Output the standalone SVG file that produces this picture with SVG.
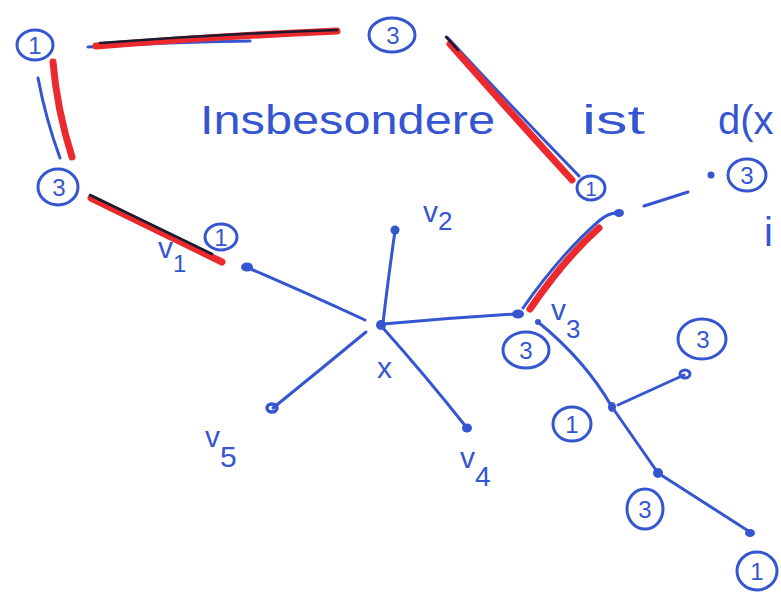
<svg xmlns="http://www.w3.org/2000/svg" width="781" height="598" viewBox="0 0 781 598">
<style>
.b{fill:none;stroke:#3556d0;stroke-width:3;stroke-linecap:round;stroke-linejoin:round}
.r{fill:none;stroke:#ec2a2e;stroke-width:7;stroke-linecap:round}
.k{fill:none;stroke:#1c1c30;stroke-width:2.5;stroke-linecap:round}
.c{fill:none;stroke:#3556d0;stroke-width:3}
.d{fill:#3556d0}
.t{fill:#3556d0;font-family:"Liberation Sans",Arial,sans-serif;font-size:24px;text-anchor:middle}
.h{fill:#3556d0;font-family:"Liberation Sans",Arial,sans-serif;font-size:40px}
.s{fill:#3556d0;font-family:"Liberation Sans",Arial,sans-serif;font-size:30px}
</style>
<rect width="781" height="598" fill="#ffffff"/>
<g id="connectors">
  <!-- top highlighted edge -->
  <path class="b" d="M88,47 Q170,42 250,41"/>
  <path class="r" d="M96,46 Q220,36 337,31"/>
  <path class="k" d="M100,43 Q220,34 337,30"/>
  <!-- left highlighted edge -->
  <path class="b" d="M38,78 Q46,120 60,158"/>
  <path class="r" d="M53,62 Q57,110 72,157"/>
  <!-- left-lower highlighted edge -->
  <path class="r" d="M91,198 Q160,232 222,262"/>
  <path class="k" d="M90,195 Q150,224 212,254"/>
  <!-- right diagonal highlighted edge -->
  <path class="b" d="M447,37 Q510,105 579,176"/>
  <path class="r" d="M450,44 Q510,112 572,180"/>
  <path class="k" d="M446,37 Q452,43 458,50"/>
  <!-- v3 up highlighted edge -->
  <path class="b" d="M523,308 Q560,255 600,220 Q610,212 618,213"/>
  <path class="r" d="M530,309 Q565,258 599,228"/>
  <!-- dash to right -->
  <path class="b" d="M644,206 L688,192"/>
  <!-- star around x -->
  <path class="b" d="M246,267 Q300,290 365,320"/>
  <path class="b" d="M395,231 Q388,280 383,323"/>
  <path class="b" d="M383,324 Q450,318 516,314"/>
  <path class="b" d="M366,332 Q320,370 273,408"/>
  <path class="b" d="M383,328 Q425,375 467,428"/>
  <!-- v3 subtree -->
  <path class="b" d="M538,322 Q585,360 612,407 Q635,440 658,473 L750,532"/>
  <path class="b" d="M618,405 L684,375"/>
</g>
<g id="n1-topleft"><ellipse class="c" cx="35" cy="45" rx="18" ry="15"/><text class="t" x="35" y="54">1</text></g>
<g id="n3-top"><ellipse class="c" cx="392" cy="35" rx="23" ry="17"/><text class="t" x="393" y="44">3</text></g>
<g id="n3-left"><ellipse class="c" cx="58" cy="187" rx="20" ry="18"/><text class="t" x="59" y="196">3</text></g>
<g id="n1-v1"><ellipse class="c" cx="221" cy="237" rx="16" ry="13"/><text class="t" x="221" y="246">1</text></g>
<g id="n1-right"><ellipse class="c" cx="591" cy="188" rx="14" ry="12"/><text class="t" x="591" y="196" style="font-size:20px">1</text></g>
<g id="n3-farright"><circle class="d" cx="711" cy="175" r="3.5"/><ellipse class="c" cx="747" cy="175" rx="19" ry="16"/><text class="t" x="747" y="184">3</text></g>
<g id="n3-v3"><ellipse class="c" cx="526" cy="350" rx="23" ry="18"/><text class="t" x="526" y="359">3</text></g>
<g id="n3-right"><ellipse class="c" cx="702" cy="339" rx="24" ry="20"/><text class="t" x="703" y="348">3</text></g>
<g id="n1-mid"><ellipse class="c" cx="572" cy="424" rx="19" ry="17"/><text class="t" x="572" y="433">1</text></g>
<g id="n3-bottom"><ellipse class="c" cx="645" cy="509" rx="18" ry="20"/><text class="t" x="645" y="518">3</text></g>
<g id="n1-bottom"><ellipse class="c" cx="757" cy="571" rx="20" ry="19"/><text class="t" x="757" y="580">1</text></g>
<g id="x"><circle class="d" cx="381" cy="325" r="5"/><text class="s" x="377" y="378">x</text></g>
<g id="v1"><ellipse class="d" cx="247" cy="267" rx="6" ry="4.5"/><text class="s" x="158" y="258">v<tspan dy="14" style="font-size:24px">1</tspan></text></g>
<g id="v2"><circle class="d" cx="395" cy="230" r="4.5"/><text class="s" x="423" y="222">v<tspan dy="8" style="font-size:26px">2</tspan></text></g>
<g id="v3"><ellipse class="d" cx="518" cy="314" rx="6" ry="4.5"/><text class="s" x="551" y="320">v<tspan dy="18" style="font-size:26px">3</tspan></text></g>
<g id="v4"><ellipse class="d" cx="467" cy="428" rx="5" ry="4.5"/><text class="s" x="460" y="468">v<tspan dy="18" style="font-size:28px">4</tspan></text></g>
<g id="v5"><ellipse class="c" cx="272" cy="408" rx="5" ry="4" style="stroke-width:3.5"/><text class="s" x="205" y="447">v<tspan dy="20" style="font-size:30px">5</tspan></text></g>
<g id="p-upper"><ellipse class="d" cx="619" cy="213" rx="5" ry="4"/></g>
<g id="p-mid"><ellipse class="d" cx="612" cy="407" rx="4" ry="5"/></g>
<g id="p-low"><ellipse class="d" cx="658" cy="473" rx="5" ry="5"/></g>
<g id="p-right"><ellipse class="c" cx="685" cy="374" rx="5" ry="4"/></g>
<g id="p-end"><ellipse class="d" cx="750" cy="533" rx="5" ry="4"/></g>
<g id="p-v3b"><ellipse class="d" cx="538" cy="322" rx="3" ry="3"/></g>
<g id="text">
  <text class="h" x="200" y="134" textLength="295" lengthAdjust="spacingAndGlyphs">Insbesondere</text>
  <text class="h" x="582" y="134" textLength="63" lengthAdjust="spacingAndGlyphs">ist</text>
  <text class="h" x="718" y="134">d(x</text>
  <text class="h" x="764" y="246">i</text>
</g>
</svg>
